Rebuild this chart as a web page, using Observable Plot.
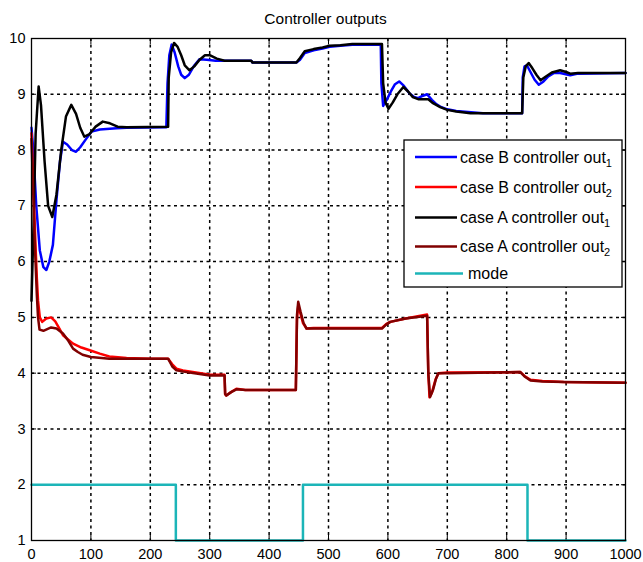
<!DOCTYPE html>
<html>
<head>
<meta charset="utf-8">
<script src="https://cdn.jsdelivr.net/npm/d3@7"></script>
<script src="https://cdn.jsdelivr.net/npm/@observablehq/plot@0.6"></script>
<style>
  html, body { margin: 0; padding: 0; background: #fff; }
  #chart { width: 643px; height: 562px; }
</style>
</head>
<body>
<div id="chart"></div>
<script>
const titleText = "Controller outputs";
const xTicks = [0, 100, 200, 300, 400, 500, 600, 700, 800, 900, 1000];
const yTicks = [1, 2, 3, 4, 5, 6, 7, 8, 9, 10];

const seriesNames = ["case B controller out", "case B controller out", "case A controller out", "case A controller out", "mode"];
const seriesSubs = ["1", "2", "1", "2", ""];
const seriesColors = ["#0000ff", "#ff0000", "#000000", "#800000", "#1cb5b8"];

// case B controller out1 (blue)
const caseB1 = [[0,8.4],[3,8.0],[8,7.0],[14,6.2],[20,5.9],[25,5.85],[30,6.0],[36,6.3],[42,7.1],[48,7.8],[53,8.15],[60,8.1],[68,8.0],[75,7.97],[82,8.05],[92,8.2],[101,8.33],[115,8.37],[143,8.39],[160,8.4],[227,8.41],[229,9.2],[232,9.7],[236,9.89],[241,9.75],[247,9.5],[252,9.35],[258,9.29],[265,9.35],[273,9.5],[283,9.63],[295,9.62],[310,9.6],[370,9.6],[372,9.57],[446,9.57],[452,9.62],[460,9.74],[475,9.79],[490,9.82],[502,9.85],[520,9.87],[540,9.89],[588,9.89],[589,9.2],[592,8.79],[598,8.9],[605,9.05],[612,9.18],[619,9.23],[627,9.15],[636,9.02],[644,8.95],[651,8.93],[658,8.97],[666,9.0],[674,8.9],[682,8.82],[688,8.78],[700,8.73],[715,8.7],[740,8.68],[760,8.66],[826,8.66],[827,9.3],[830,9.5],[834,9.52],[840,9.4],[847,9.26],[854,9.17],[862,9.23],[870,9.32],[879,9.38],[890,9.38],[907,9.34],[920,9.37],[1000,9.38]];

// case B controller out2 (red)
const caseB2 = [[0,8.3],[3,7.4],[6,6.5],[9,5.7],[11,5.3],[14,5.0],[18,4.92],[25,4.98],[33,5.0],[40,4.93],[47,4.8],[53,4.68],[62,4.6],[70,4.53],[84,4.46],[98,4.41],[115,4.35],[131,4.3],[160,4.27],[199,4.26],[230,4.26],[237,4.16],[244,4.08],[255,4.05],[266,4.03],[285,4.0],[300,3.97],[325,3.97],[326,3.62],[328,3.6],[336,3.66],[345,3.72],[360,3.7],[445,3.7],[447,5.0],[449,5.2],[452,5.1],[457,4.9],[463,4.8],[475,4.81],[590,4.81],[597,4.88],[604,4.92],[630,4.98],[666,5.05],[668,4.0],[670,3.57],[674,3.65],[680,3.88],[685,4.0],[700,4.01],[823,4.02],[830,3.95],[840,3.88],[860,3.86],[896,3.84],[1000,3.83]];

// case A controller out1 (black)
const caseA1 = [[0,5.3],[3,6.5],[7,8.3],[12,9.14],[16,8.8],[22,7.8],[28,7.0],[35,6.8],[42,7.2],[50,8.0],[58,8.6],[67,8.81],[75,8.65],[82,8.4],[89,8.24],[97,8.28],[108,8.42],[120,8.51],[132,8.48],[145,8.42],[160,8.41],[230,8.42],[231,9.3],[235,9.75],[240,9.92],[246,9.85],[252,9.7],[258,9.52],[266,9.43],[274,9.5],[283,9.62],[292,9.7],[300,9.7],[312,9.64],[325,9.6],[370,9.6],[372,9.57],[446,9.57],[452,9.65],[460,9.77],[475,9.81],[490,9.84],[502,9.87],[520,9.88],[540,9.9],[590,9.9],[592,9.2],[596,8.85],[601,8.74],[608,8.85],[616,9.0],[626,9.13],[634,9.05],[642,8.95],[652,8.91],[668,8.91],[676,8.84],[688,8.77],[700,8.72],[715,8.69],[739,8.66],[826,8.66],[828,9.3],[832,9.5],[837,9.56],[843,9.47],[850,9.35],[857,9.25],[866,9.32],[876,9.39],[890,9.43],[900,9.4],[907,9.37],[920,9.38],[1000,9.38]];

// case A controller out2 (dark red)
const caseA2 = [[0,8.2],[3,7.2],[6,6.2],[9,5.4],[11,5.0],[13.5,4.78],[20,4.76],[33,4.82],[42,4.8],[53,4.71],[62,4.58],[70,4.44],[78,4.38],[86,4.33],[100,4.29],[131,4.26],[230,4.26],[237,4.12],[244,4.05],[266,4.01],[300,3.96],[325,3.96],[326,3.63],[328,3.6],[336,3.66],[345,3.71],[360,3.7],[445,3.7],[447,5.05],[449,5.28],[453,5.1],[458,4.9],[463,4.8],[475,4.8],[590,4.8],[597,4.87],[604,4.92],[630,4.98],[666,5.03],[668,4.0],[671,3.57],[676,3.7],[681,3.9],[685,4.0],[700,4.0],[823,4.02],[830,3.94],[840,3.87],[860,3.85],[896,3.84],[1000,3.83]];

// mode (step)
const modeSteps = [[0,2],[243,1],[457,2],[835,1],[1000,1]];

const allSeries = [caseB1, caseB2, caseA1, caseA2];
const fontFamily = "'Liberation Sans', Arial, Helvetica, sans-serif";

const lineMarks = allSeries.map((s, i) =>
  Plot.line(s, {x: d => d[0], y: d => d[1], stroke: seriesColors[i], strokeWidth: 2.5, curve: "linear"})
);

const fmt = d => String(d);

const chart = Plot.plot({
  width: 643,
  height: 562,
  marginLeft: 31,
  marginRight: 18,
  marginTop: 38,
  marginBottom: 22,
  style: {fontFamily, fontSize: "14px", background: "#fff", color: "#000"},
  x: {domain: [0, 1000]},
  y: {domain: [1, 10]},
  marks: [
    Plot.gridX(xTicks.slice(1, -1), {stroke: "#000", strokeOpacity: 1, strokeWidth: 1.5, strokeDasharray: "3,3.5"}),
    Plot.gridY(yTicks.slice(1, -1), {stroke: "#000", strokeOpacity: 1, strokeWidth: 1.5, strokeDasharray: "3,3.5"}),
    Plot.axisX(xTicks, {anchor: "bottom", tickSize: -5, tickPadding: 13, tickFormat: fmt, label: null, fontSize: 14.5}),
    Plot.axisX(xTicks, {anchor: "top", tickSize: -5, tickFormat: () => "", label: null}),
    Plot.axisY(yTicks, {anchor: "left", tickSize: -5, tickPadding: 11, tickFormat: fmt, label: null, fontSize: 14.5}),
    Plot.axisY(yTicks, {anchor: "right", tickSize: -5, tickFormat: () => "", label: null}),
    ...lineMarks,
    Plot.line(modeSteps, {x: d => d[0], y: d => d[1], stroke: seriesColors[4], strokeWidth: 2.5, curve: "step-after"}),
    Plot.frame({stroke: "#000", strokeWidth: 1.3}),
    Plot.text([titleText], {frameAnchor: "top", dy: -19, dx: -3, text: d => d, fontSize: 15.5, lineAnchor: "middle"})
  ]
});

document.getElementById("chart").appendChild(chart);

// Legend box inside the plot area
const svg = d3.select(chart);
const lg = svg.append("g")
  .attr("font-family", fontFamily)
  .attr("font-size", 16)
  .attr("text-anchor", "start")
  .style("text-anchor", "start");
lg.append("rect")
  .attr("x", 404).attr("y", 140).attr("width", 218).attr("height", 147)
  .attr("fill", "#ffffff").attr("stroke", "#000000").attr("stroke-width", 1.3)
  .style("fill", "#ffffff").style("stroke", "#000000").style("stroke-width", "1.3px");
const rowY = [157, 187, 217.5, 246.5, 273.5];
seriesNames.forEach((name, i) => {
  const y = rowY[i];
  lg.append("line").attr("x1", 415).attr("x2", i === 4 ? 463 : 457).attr("y1", y).attr("y2", y)
    .attr("stroke", seriesColors[i]).attr("stroke-width", 2.5);
  const t = lg.append("text")
    .attr("x", i === 4 ? 468 : 460).attr("y", y + 5.5)
    .attr("fill", "#000").attr("text-anchor", "start");
  t.append("tspan").text(name);
  if (seriesSubs[i]) {
    t.append("tspan").attr("font-size", 11).attr("dy", 4).text(seriesSubs[i]);
  }
});
</script>
</body>
</html>
